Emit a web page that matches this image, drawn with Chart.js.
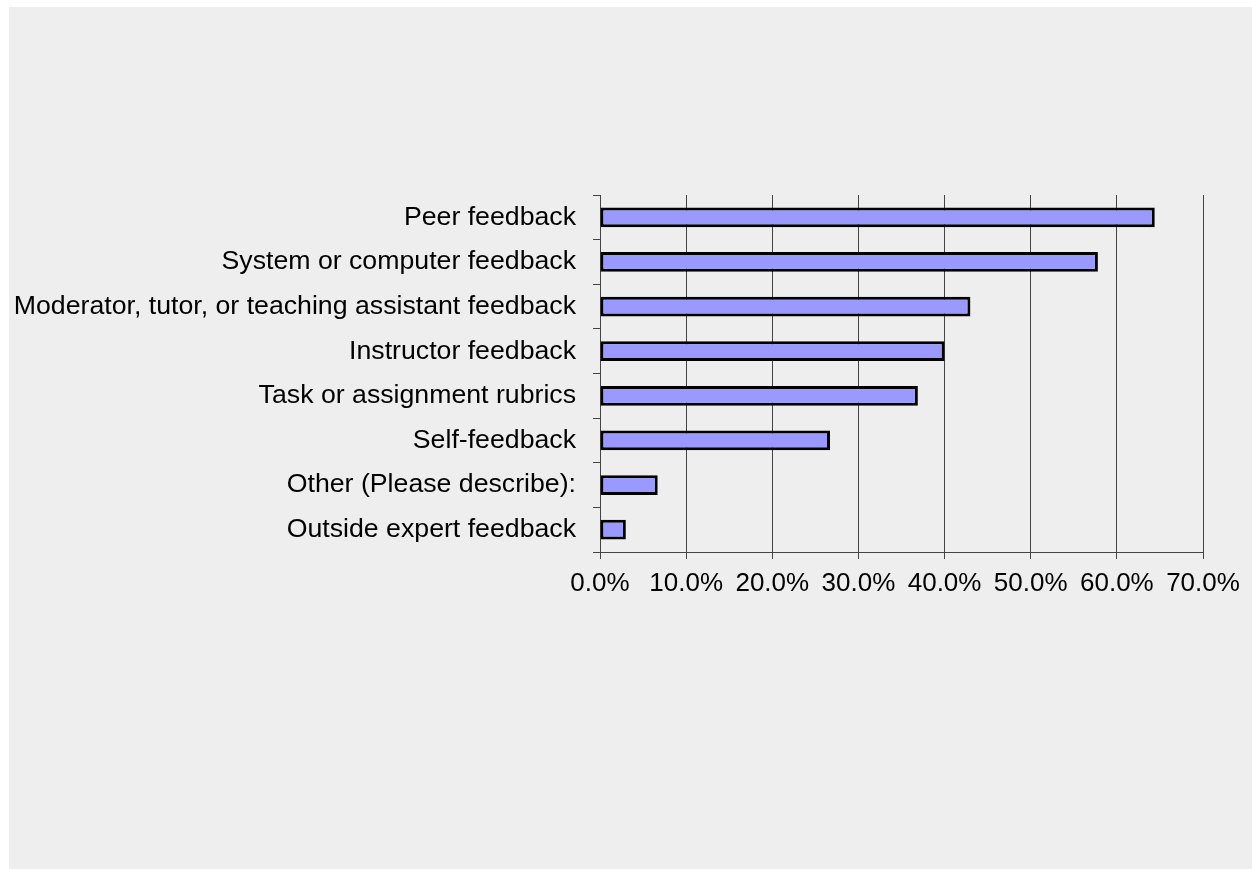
<!DOCTYPE html>
<html>
<head>
<meta charset="utf-8">
<script src="https://cdn.jsdelivr.net/npm/chart.js@4"></script>
<style>
  html, body { margin: 0; padding: 0; background: #ffffff; }
  #wrap { width: 1252px; height: 869px; }
</style>
</head>
<body>
<div id="wrap"><canvas id="feedbackChart" width="1252" height="869"></canvas></div>
<script>
// Feedback sources, share of respondents (%)
const categories = [
    'Peer feedback',
    'System or computer feedback',
    'Moderator, tutor, or teaching assistant feedback',
    'Instructor feedback',
    'Task or assignment rubrics',
    'Self-feedback',
    'Other (Please describe):',
    'Outside expert feedback'
];
const shares = [64.4, 57.8, 43.0, 40.0, 36.9, 26.7, 6.7, 3.0];
const xTicks = [0, 10, 20, 30, 40, 50, 60, 70];

// grey panel behind the whole chart
const panelBackground = {
    id: 'panelBackground',
    beforeDraw(chart) {
        const ctx = chart.ctx;
        ctx.save();
        ctx.fillStyle = '#eeeeee';
        ctx.fillRect(9, 7, chart.width - 9, chart.height - 7);
        ctx.restore();
    }
};

const fontFamily = "'Liberation Sans', Arial, sans-serif";

new Chart(document.getElementById('feedbackChart'), {
    type: 'bar',
    data: {
        labels: categories,
        datasets: [{
            data: shares,
            backgroundColor: '#9999ff',
            borderColor: '#000000',
            borderWidth: 3,
            borderSkipped: false,
            barPercentage: 0.44,
            categoryPercentage: 1.0
        }]
    },
    options: {
        indexAxis: 'y',
        responsive: false,
        animation: false,
        layout: { padding: { left: 0, top: 195, right: 49, bottom: 257 } },
        plugins: {
            legend: { display: false },
            tooltip: { enabled: false }
        },
        scales: {
            x: {
                min: 0,
                max: 70,
                afterBuildTicks(scale) {
                    scale.ticks = xTicks.map(v => ({ value: v }));
                },
                afterFit(scale) { scale.height = 60; },
                ticks: {
                    color: '#000000',
                    font: { family: fontFamily, size: 26 },
                    padding: 9,
                    maxRotation: 0,
                    autoSkip: false,
                    callback: v => v.toFixed(1) + '%'
                },
                grid: {
                    color: '#444444',
                    lineWidth: 1,
                    tickLength: 7,
                    drawTicks: true
                },
                border: { display: true, color: '#444444', width: 1 }
            },
            y: {
                afterFit(scale) { scale.width = 600; },
                ticks: {
                    color: '#000000',
                    font: { family: fontFamily, size: 26.7 },
                    padding: 17,
                    autoSkip: false
                },
                grid: {
                    offset: true,
                    drawOnChartArea: false,
                    color: '#444444',
                    tickLength: 7
                },
                border: { display: true, color: '#444444', width: 1 }
            }
        }
    },
    plugins: [panelBackground]
});
</script>
</body>
</html>
